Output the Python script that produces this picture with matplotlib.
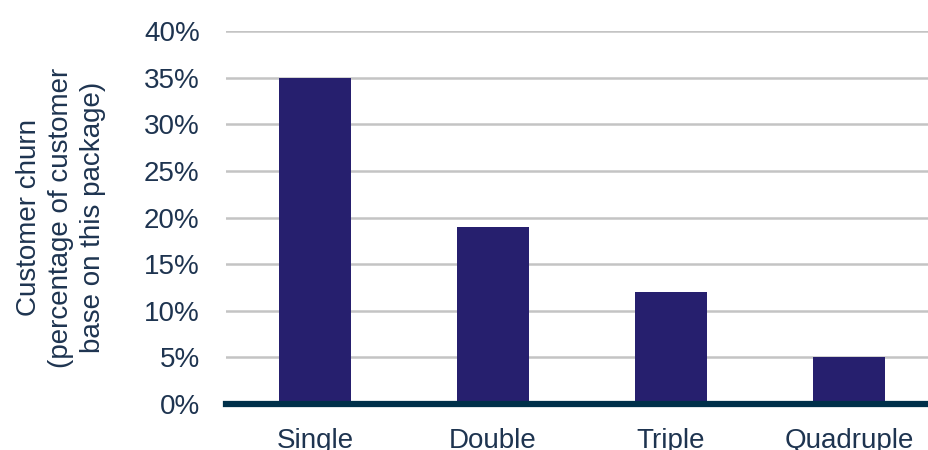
import matplotlib.pyplot as plt
from matplotlib.ticker import PercentFormatter

packages = ['Single', 'Double', 'Triple', 'Quadruple']
churn = [35, 19, 12, 5]
y_ticks = [0, 5, 10, 15, 20, 25, 30, 35, 40]

text_col = '#1E3450'
bar_col = '#261F6E'

plt.rcParams['font.family'] = ['Liberation Sans', 'DejaVu Sans']

fig = plt.figure(figsize=(9.29, 4.5), dpi=100)
ax = fig.add_axes([0.2433, 0.1022, 0.7664, 0.8289])

x = range(len(packages))
ax.bar(x, churn, width=0.4, color=bar_col, zorder=3)

ax.set_xlim(-0.5, 3.5)
ax.set_ylim(0, 40)
ax.set_yticks(y_ticks)
ax.yaxis.set_major_formatter(PercentFormatter(decimals=0))
ax.set_xticks(list(x))
ax.set_xticklabels(packages)

ax.grid(axis='y', color='#C4C4C4', linewidth=1.8, zorder=0)
for s in ['top', 'right', 'left']:
    ax.spines[s].set_visible(False)
ax.spines['bottom'].set_color('#00304A')
ax.spines['bottom'].set_linewidth(4.5)
ax.spines['bottom'].set_zorder(4)

ax.tick_params(axis='both', length=0, labelsize=20, labelcolor=text_col)
ax.tick_params(axis='y', pad=19)
ax.tick_params(axis='x', pad=17)

ax.set_ylabel('Customer churn\n(percentage of customer\nbase on this package)',
              fontsize=20, color=text_col, labelpad=27, linespacing=1.3)

fig.savefig('out.png', dpi=100)
